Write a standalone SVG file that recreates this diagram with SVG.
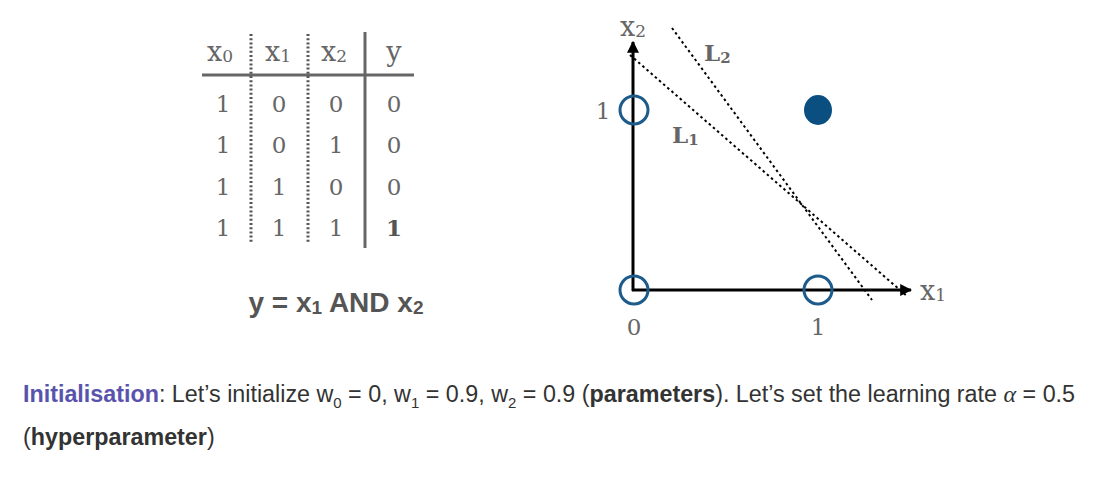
<svg xmlns="http://www.w3.org/2000/svg" width="1096" height="485" viewBox="0 0 1096 485">
<defs>
<marker id="arr" viewBox="0 0 10 10" refX="9" refY="5" markerWidth="12" markerHeight="12" markerUnits="userSpaceOnUse" orient="auto">
<path d="M0,0 L10,5 L0,10 z" fill="#000"/>
</marker>
<linearGradient id="pg" x1="0" y1="0" x2="1" y2="0">
<stop offset="0" stop-color="#5753ad"/>
<stop offset="1" stop-color="#7a4aa0"/>
</linearGradient>
</defs>
<style>
.tb{font-family:"DejaVu Serif","Liberation Serif",serif;font-size:23px;fill:#666;text-anchor:middle}
.hd{font-family:"DejaVu Serif","Liberation Serif",serif;font-size:27px;fill:#666}
.sub{font-size:17px}
.dot{stroke:#555;stroke-width:3;stroke-dasharray:2 2.2;fill:none}
.rule{stroke:#666;stroke-width:3;fill:none}
.axis{stroke:#000;stroke-width:3;fill:none}
.ring{stroke:#1d5b8a;stroke-width:3;fill:none}
.lab{font-family:"DejaVu Serif","Liberation Serif",serif;font-size:23px;fill:#666;text-anchor:middle}
.ln{font-family:"DejaVu Serif","Liberation Serif",serif;font-weight:bold;font-size:23px;fill:#666}
.sep{stroke:#000;stroke-width:2;stroke-dasharray:2.5 3;fill:none}
.body{font-family:"Liberation Sans",Arial,sans-serif;font-size:23.3px;fill:#333}
</style>
<rect width="1096" height="485" fill="#fff"/>

<g id="table">
<line class="dot" x1="251" y1="34" x2="251" y2="244"/>
<line class="dot" x1="308" y1="34" x2="308" y2="244"/>
<line class="rule" x1="365" y1="32" x2="365" y2="248"/>
<line class="rule" x1="202" y1="75" x2="414" y2="75"/>
<text class="hd" x="207" y="61">x<tspan class="sub" dy="1">0</tspan></text>
<text class="hd" x="265" y="61">x<tspan class="sub" dy="1">1</tspan></text>
<text class="hd" x="321" y="61">x<tspan class="sub" dy="1">2</tspan></text>
<text class="hd" x="394" y="61" text-anchor="middle">y</text>
<text class="tb" x="223" y="112">1</text><text class="tb" x="279" y="112">0</text><text class="tb" x="336" y="112">0</text><text class="tb" x="394" y="112">0</text>
<text class="tb" x="223" y="153">1</text><text class="tb" x="279" y="153">0</text><text class="tb" x="336" y="153">1</text><text class="tb" x="394" y="153">0</text>
<text class="tb" x="223" y="195">1</text><text class="tb" x="279" y="195">1</text><text class="tb" x="336" y="195">0</text><text class="tb" x="394" y="195">0</text>
<text class="tb" x="223" y="236">1</text><text class="tb" x="279" y="236">1</text><text class="tb" x="336" y="236">1</text><text class="tb" x="394" y="236" font-weight="bold" style="fill:#555">1</text>
</g>

<g id="formula">
<text x="336" y="312" text-anchor="middle" font-family="Liberation Sans,Arial,sans-serif" font-weight="bold" font-size="28" fill="#555">y = x<tspan font-size="19" dy="2">1</tspan><tspan dy="-2"> AND x</tspan><tspan font-size="19" dy="2">2</tspan></text>
</g>

<g id="connectors">
<line class="axis" x1="633" y1="291" x2="633" y2="42" marker-end="url(#arr)"/>
<line class="axis" x1="632" y1="290" x2="911" y2="290" marker-end="url(#arr)"/>
<line class="sep" x1="630" y1="55" x2="908" y2="297"/>
<line class="sep" x1="672" y1="28" x2="872" y2="300"/>
</g>

<g id="points">
<circle class="ring" cx="634" cy="290" r="14"/>
<circle class="ring" cx="818" cy="290" r="14"/>
<circle class="ring" cx="634" cy="110" r="14"/>
<ellipse cx="818" cy="110" rx="14" ry="15" fill="#0b4f80"/>
</g>

<g id="labels">
<text class="hd" x="620" y="36">x<tspan class="sub" dy="1">2</tspan></text>
<text class="hd" x="920" y="300">x<tspan class="sub" dy="1">1</tspan></text>
<text class="lab" x="603" y="119">1</text>
<text class="lab" x="634" y="335">0</text>
<text class="lab" x="818" y="335">1</text>
<text class="ln" x="704" y="61">L<tspan font-size="15" dy="2">2</tspan></text>
<text class="ln" x="672" y="143">L<tspan font-size="15" dy="2">1</tspan></text>
</g>

<g id="caption">
<text class="body" x="23" y="402"><tspan font-weight="bold" fill="url(#pg)">Initialisation</tspan>: Let’s initialize w<tspan font-size="15" dy="6">0</tspan><tspan dy="-6"> = 0, w</tspan><tspan font-size="15" dy="6">1</tspan><tspan dy="-6"> = 0.9, w</tspan><tspan font-size="15" dy="6">2</tspan><tspan dy="-6"> = 0.9 (</tspan><tspan font-weight="bold">parameters</tspan>). Let’s set the learning rate <tspan font-family="Liberation Serif,serif" font-style="italic" font-size="24">α</tspan> = 0.5</text>
<text class="body" x="23" y="445">(<tspan font-weight="bold">hyperparameter</tspan>)</text>
</g>
</svg>
